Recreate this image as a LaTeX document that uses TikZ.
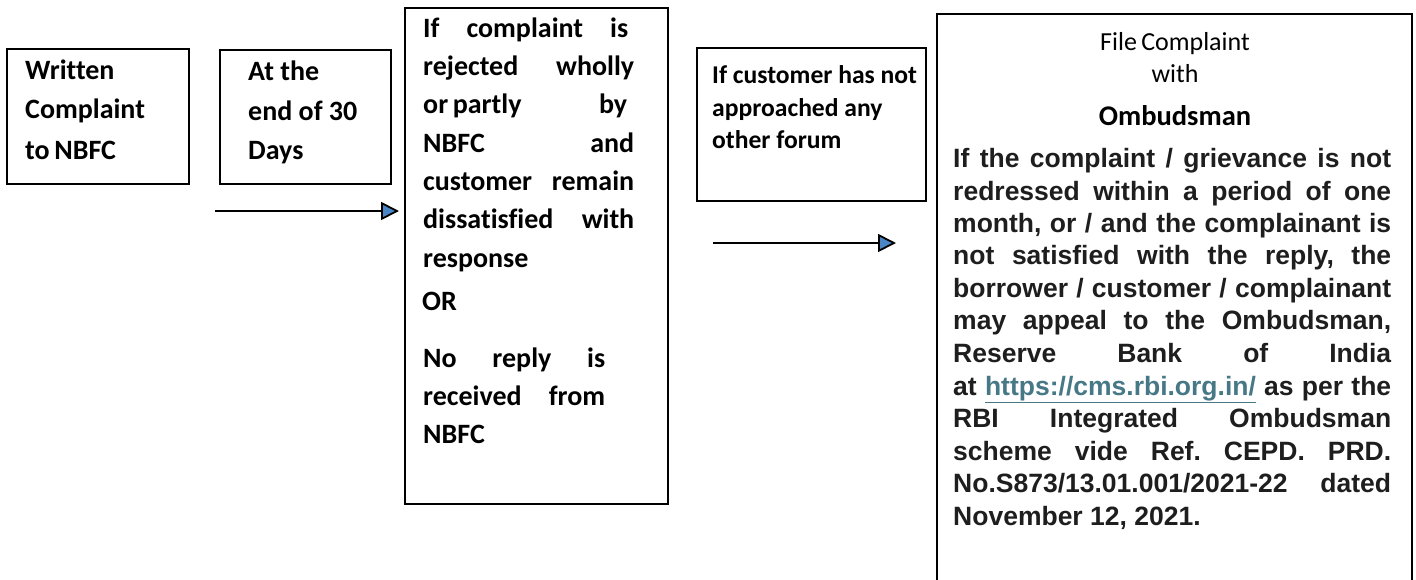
\documentclass[tikz,border=0pt]{standalone}
\usepackage{fontspec}
\usetikzlibrary{arrows.meta}
\newfontfamily\calfont[Ligatures=NoCommon]{Carlito}
\newfontfamily\arifont{Liberation Sans}
\definecolor{arrowblue}{HTML}{4A86C5}
\definecolor{bodygray}{HTML}{1E1E1E}
\definecolor{linkcol}{HTML}{467886}
\tikzset{
  x=1pt, y=-1pt,
  boxline/.style={draw=black, line width=2.2pt},
  caltext/.style={anchor=base west, inner sep=0pt, font=\calfont\bfseries\fontsize{28}{32}\selectfont},
  smalltext/.style={anchor=base west, inner sep=0pt, font=\calfont\bfseries\fontsize{25.6}{28}\selectfont},
  headtext/.style={anchor=base, inner sep=0pt, font=\calfont\fontsize{26}{28}\selectfont},
  headbold/.style={anchor=base, inner sep=0pt, font=\calfont\bfseries\fontsize{28.5}{30}\selectfont},
  bodytext/.style={anchor=base west, inner sep=0pt, text=bodygray, font=\arifont\bfseries\fontsize{26.5}{30}\selectfont},
  flowarrow/.style={line width=2.8pt, -{Triangle[width=18pt,length=18pt,fill=arrowblue,line width=1.8pt]}},
}
\newcommand{\jl}[2]{\makebox[#1pt][s]{#2}}
\frenchspacing
\begin{document}
\begin{tikzpicture}
\useasboundingbox (0,0) rectangle (1416,579);
% boxes
\draw[boxline] (7,49) rectangle (189,184);
\draw[boxline] (220,50) rectangle (391,184);
\draw[boxline] (405,8) rectangle (668,504);
\draw[boxline] (697,48) rectangle (926,201);
\draw[boxline] (937,620) -- (937,14) -- (1412,14) -- (1412,620);
% box 1
\node[caltext] (t1a) at (25,79) {Written};
\node[caltext] (t1b) at (25,118) {Complaint};
\node[caltext] (t1c) at (25,159) {to\,NBFC};
% box 2
\node[caltext] (t2a) at (248,80) {At the};
\node[caltext] (t2b) at (248,120) {end of 30};
\node[caltext] (t2c) at (248,159) {Days};
% box 3
\node[caltext] (t3a) at (423,37) {\jl{205}{If complaint is}};
\node[caltext] (t3b) at (423,75) {\jl{211}{rejected wholly}};
\node[caltext] (t3c) at (423,113) {\jl{204}{or\,partly\hfill by}};
\node[caltext] (t3d) at (423,152) {\jl{211}{NBFC and}};
\node[caltext] (t3e) at (423,190) {\jl{211}{customer remain}};
\node[caltext] (t3f) at (423,228) {\jl{211}{dissatisfied with}};
\node[caltext] (t3g) at (423,267) {response};
\node[caltext] (t3h) at (422,310) {OR};
\node[caltext] (t3i) at (423,367) {\jl{182}{No reply is}};
\node[caltext] (t3j) at (423,405) {\jl{182}{received from}};
\node[caltext] (t3k) at (423,443) {NBFC};
% box 4
\node[smalltext] (t4a) at (712,83) {If customer has not};
\node[smalltext] (t4b) at (712,116) {approached any};
\node[smalltext] (t4c) at (712,148) {other forum};
% box 5
\node[headtext] (h1) at (1175,50) {File\,Complaint};
\node[headtext] (h2) at (1175,82) {with};
\node[headbold] (h3) at (1175,125) {Ombudsman};
\node[bodytext] (b1) at (953,167) {\jl{438}{If the complaint / grievance is not}};
\node[bodytext] (b2) at (953,200) {\jl{438}{redressed within a period of one}};
\node[bodytext] (b3) at (953,232) {\jl{438}{month, or / and the complainant is}};
\node[bodytext] (b4) at (953,264) {\jl{438}{not satisfied with the reply, the}};
\node[bodytext] (b5) at (953,297) {\jl{438}{borrower / customer / complainant}};
\node[bodytext] (b6) at (953,329) {\jl{438}{may appeal to the Ombudsman,}};
\node[bodytext] (b7) at (953,362) {\jl{438}{Reserve Bank of India}};
\node[bodytext] (b8) at (953,395) {\jl{438}{at \textcolor{linkcol}{\underline{https://cms.rbi.org.in/}} as per the}};
\node[bodytext] (b9) at (953,427) {\jl{438}{RBI Integrated Ombudsman}};
\node[bodytext] (b10) at (953,460) {\jl{438}{scheme vide Ref. CEPD. PRD.}};
\node[bodytext] (b11) at (953,492) {\jl{438}{No.S873/13.01.001/2021-22 dated}};
\node[bodytext] (b12) at (953,525) {November 12, 2021.};
% arrows
\coordinate (a1s) at (215,211);
\coordinate (a1e) at (399,211);
\coordinate (a2s) at (713,243);
\coordinate (a2e) at (896,243);
\draw[flowarrow] (a1s) -- (a1e);
\draw[flowarrow] (a2s) -- (a2e);
\end{tikzpicture}
\end{document}
